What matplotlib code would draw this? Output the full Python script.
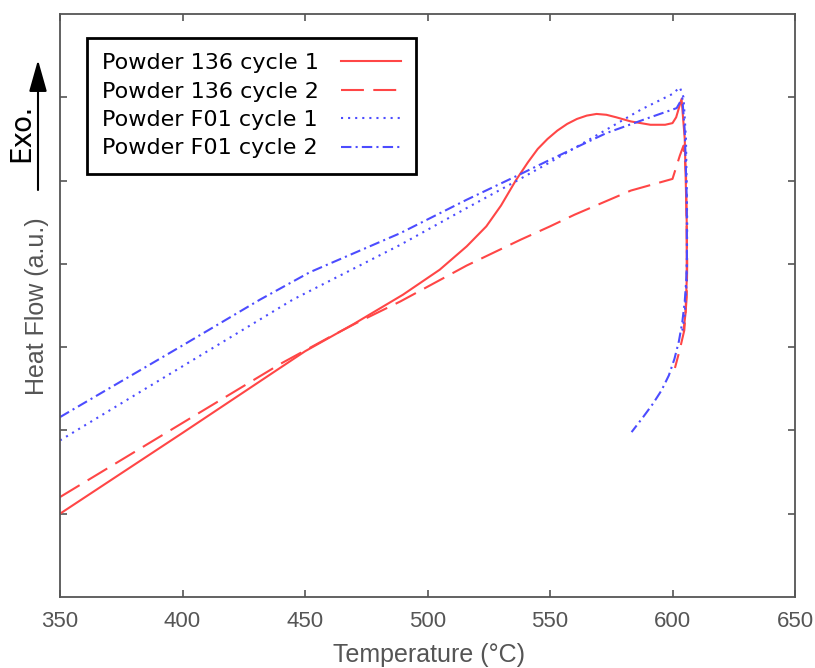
# DSC heat flow curves for two powders, two cycles each

import numpy as np
import matplotlib
matplotlib.use("Agg")
import matplotlib.pyplot as plt

# powder 136 cycle 1 (solid red)
t_136_c1 = [350, 400, 450, 470, 490, 505, 516, 524, 530, 536, 541, 545, 549, 553, 557, 561, 565, 569,
            573, 577, 583, 591, 597, 600, 601.5, 603.7, 605.0, 605.8, 605.8, 605.3, 604.5]
hf_136_c1 = [1.00, 1.97, 2.95, 3.28, 3.63, 3.93, 4.21, 4.45, 4.70, 5.00, 5.22, 5.38, 5.50, 5.60, 5.68, 5.74, 5.78, 5.80,
             5.79, 5.76, 5.71, 5.67, 5.67, 5.69, 5.76, 5.98, 5.50, 4.50, 3.80, 3.40, 3.20]

# powder 136 cycle 2 (dashed red)
t_136_c2 = [350, 400, 440, 450, 460, 471, 489, 516, 538, 550, 560, 583, 600, 603, 604.5,
            605.5, 606, 605.8, 604.8, 602.8, 601]
hf_136_c2 = [1.20, 2.09, 2.80, 2.96, 3.12, 3.29, 3.55, 3.98, 4.29, 4.45, 4.59, 4.88, 5.02, 5.30, 5.42,
             5.10, 4.00, 3.60, 3.20, 2.95, 2.75]

# powder F01 cycle 1 (dotted blue)
t_f01_c1 = [350, 400, 445, 489, 516, 536, 550, 570, 587, 600, 603, 604.5, 605.5, 606, 605.8, 605, 604]
hf_f01_c1 = [1.88, 2.77, 3.57, 4.23, 4.67, 4.99, 5.22, 5.56, 5.85, 6.04, 6.12, 6.00, 5.50, 4.50, 3.80, 3.40, 3.20]

# powder F01 cycle 2 (dash-dot blue)
t_f01_c2 = [350, 400, 431.6, 452, 489, 516, 536, 550, 573, 590, 601.7, 604, 605, 605.8, 605.9,
            605.6, 605.0, 604.0, 602.6, 600.8, 598.5, 595.5, 592, 588, 583.3]
hf_f01_c2 = [2.16, 3.02, 3.57, 3.90, 4.37, 4.77, 5.05, 5.25, 5.57, 5.75, 5.87, 5.99, 5.60, 4.80, 4.05,
             3.80, 3.55, 3.30, 3.07, 2.86, 2.66, 2.48, 2.32, 2.16, 1.98]

labels = ["Powder 136 cycle 1", "Powder 136 cycle 2", "Powder F01 cycle 1", "Powder F01 cycle 2"]
xticks = [350, 400, 450, 500, 550, 600, 650]

red = "#ff4646"
blue = "#4c4cff"
gray = "#555555"

fig = plt.figure(figsize=(8.15, 6.68), dpi=100)
W, H = 815, 668
ax = fig.add_axes([60 / W, 1 - 597 / H, (795 - 60) / W, (597 - 14) / H])

ax.plot(t_136_c1, hf_136_c1, color=red, lw=1.5, linestyle="-", label=labels[0])
ax.plot(t_136_c2, hf_136_c2, color=red, lw=1.5, linestyle=(0, (11, 4.5)), label=labels[1])
ax.plot(t_f01_c1, hf_f01_c1, color=blue, lw=1.5, linestyle=(0, (1, 2.4)), label=labels[2])
ax.plot(t_f01_c2, hf_f01_c2, color=blue, lw=1.5, linestyle=(0, (5, 2, 1, 2)), label=labels[3])

ax.set_xlim(350, 650)
ax.set_ylim(0, 7)
ax.set_xticks(xticks)
ax.set_yticks([1, 2, 3, 4, 5, 6])
ax.set_yticklabels([])
ax.tick_params(direction="in", length=5, width=1.2, color=gray, top=True, right=True,
               labelsize=16, labelcolor=gray, pad=10)
for lab in ax.get_xticklabels():
    lab.set_fontfamily("Liberation Sans")
for sp in ax.spines.values():
    sp.set_color(gray)
    sp.set_linewidth(1.3)

# axis labels placed by hand
fig.text(429 / W, 1 - 655 / H, "Temperature (°C)", ha="center", va="center",
         fontsize=18, color=gray, family="Liberation Sans")
fig.text(37 / W, 1 - 306 / H, "Heat Flow (a.u.)", ha="center", va="center", rotation=90,
         fontsize=18, color=gray, family="Liberation Sans")

# exotherm arrow
fig.text(21 / W, 1 - 133 / H, "Exo.", ha="center", va="center", rotation=90,
         fontsize=20, color="black", family="DejaVu Sans")
ax.annotate("", xy=(38 / W, 1 - 60 / H), xytext=(38 / W, 1 - 190 / H),
            xycoords="figure fraction", textcoords="figure fraction",
            arrowprops=dict(arrowstyle="-|>,head_length=1.95,head_width=0.55", color="black",
                            lw=1.5, mutation_scale=10, shrinkA=0, shrinkB=0),
            annotation_clip=False)

leg = ax.legend(loc="upper left", bbox_to_anchor=(87 / W, 1 - 38 / H), bbox_transform=fig.transFigure,
                borderaxespad=0, markerfirst=False, fancybox=False, framealpha=1,
                edgecolor="black", prop={"family": "DejaVu Sans", "size": 16},
                handlelength=2.7, handletextpad=1.0, labelspacing=0.38, borderpad=0.68)
leg.get_frame().set_linewidth(2)

# left-align the labels: widen the gap in shorter rows so handles line up
fig.canvas.draw()
r = fig.canvas.get_renderer()
widths = [t.get_window_extent(r).width for t in leg.get_texts()]
rows = leg._legend_handle_box.get_children()[0].get_children()
for row, w in zip(rows, widths):
    row.sep = row.sep + (max(widths) - w) * 72.0 / fig.dpi

fig.savefig("out.png", dpi=100)
